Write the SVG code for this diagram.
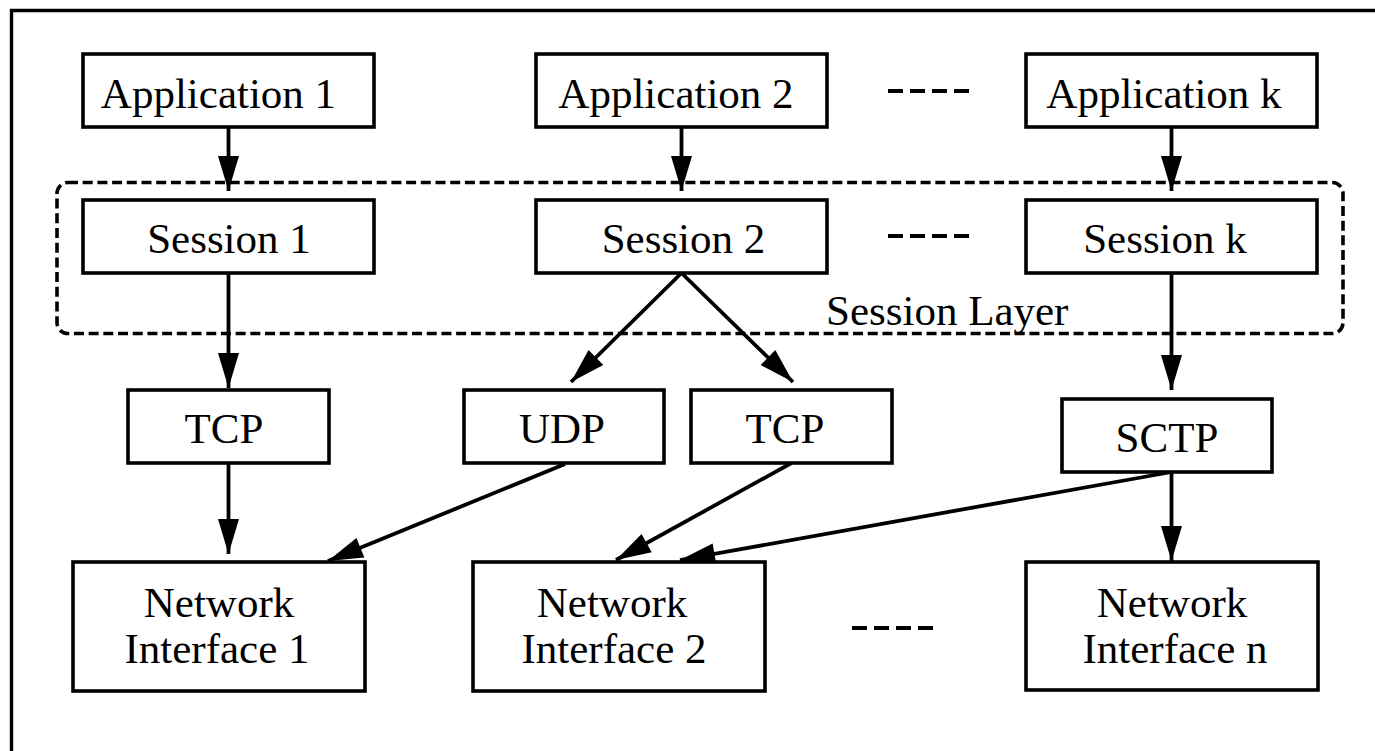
<svg xmlns="http://www.w3.org/2000/svg" width="1375" height="751" viewBox="0 0 1375 751">
  <defs>
    <marker id="arrow" markerUnits="userSpaceOnUse" markerWidth="36" markerHeight="22" refX="35" refY="10.5" orient="auto" overflow="visible">
      <polygon points="0,0 35,10.5 0,21" fill="#000"/>
    </marker>
    <style>
      .box { fill: #fff; stroke: #000; stroke-width: 3.6; }
      .lbl { font-family: "Liberation Serif", "Times New Roman", serif; font-size: 43px; fill: #000; text-anchor: middle; }
      .edge { fill: none; stroke: #000; stroke-width: 3.8; marker-end: url(#arrow); }
      .dots { stroke: #000; stroke-width: 4.2; stroke-dasharray: 15 7; }
      .cluster { fill: none; stroke: #000; stroke-width: 3.6; stroke-dasharray: 10 4.7; }
    </style>
  </defs>

  <rect width="1375" height="751" fill="#fff"/>
  <!-- page frame -->
  <path d="M11.5,751 V10.5 H1375" fill="none" stroke="#000" stroke-width="3.4"/>

  <!-- session layer cluster -->
  <g id="session-layer">
    <rect class="cluster" x="57" y="182.5" width="1286" height="151" rx="11" ry="11"/>
    <text class="lbl" x="826" y="325" style="text-anchor:start">Session Layer</text>
  </g>

  <!-- connectors -->
  <g id="connectors">
    <line class="edge" x1="228.5" y1="127" x2="228.5" y2="191"/>
    <line class="edge" x1="681.5" y1="127" x2="681.5" y2="191"/>
    <line class="edge" x1="1171.5" y1="127" x2="1171.5" y2="191"/>
    <line class="edge" x1="228.5" y1="273" x2="228.5" y2="388"/>
    <line class="edge" x1="681.5" y1="273" x2="571" y2="382"/>
    <line class="edge" x1="681.5" y1="273" x2="793" y2="382"/>
    <line class="edge" x1="1171.5" y1="273" x2="1171.5" y2="390"/>
    <line class="edge" x1="228.5" y1="463" x2="228.5" y2="554"/>
    <line class="edge" x1="565" y1="464" x2="328" y2="561"/>
    <line class="edge" x1="791.5" y1="463" x2="616" y2="560"/>
    <line class="edge" x1="1171.5" y1="472" x2="680" y2="560"/>
    <line class="edge" x1="1171.5" y1="472" x2="1171.5" y2="561"/>
  </g>

  <!-- ellipsis marks between columns -->
  <g id="ellipses">
    <line class="dots" x1="888" y1="91" x2="969" y2="91"/>
    <line class="dots" x1="888" y1="236" x2="969" y2="236"/>
    <line class="dots" x1="852" y1="628" x2="933" y2="628"/>
  </g>

  <!-- application row -->
  <g id="app1">
    <rect class="box" x="83" y="54" width="291" height="73"/>
    <text class="lbl" x="218.5" y="108">Application 1</text>
  </g>
  <g id="app2">
    <rect class="box" x="536" y="54" width="291" height="73"/>
    <text class="lbl" x="676" y="108">Application 2</text>
  </g>
  <g id="appk">
    <rect class="box" x="1026" y="54" width="291" height="73"/>
    <text class="lbl" x="1164" y="108">Application k</text>
  </g>

  <!-- session row -->
  <g id="session1">
    <rect class="box" x="83" y="200" width="291" height="73"/>
    <text class="lbl" x="229" y="253">Session 1</text>
  </g>
  <g id="session2">
    <rect class="box" x="536" y="200" width="291" height="73"/>
    <text class="lbl" x="683.5" y="253">Session 2</text>
  </g>
  <g id="sessionk">
    <rect class="box" x="1026" y="200" width="291" height="73"/>
    <text class="lbl" x="1165" y="253">Session k</text>
  </g>

  <!-- transport row -->
  <g id="tcp1">
    <rect class="box" x="128" y="390" width="201" height="73"/>
    <text class="lbl" x="224" y="443">TCP</text>
  </g>
  <g id="udp">
    <rect class="box" x="464" y="390" width="200" height="73"/>
    <text class="lbl" x="562" y="443">UDP</text>
  </g>
  <g id="tcp2">
    <rect class="box" x="691" y="390" width="201" height="73"/>
    <text class="lbl" x="785" y="443">TCP</text>
  </g>
  <g id="sctp">
    <rect class="box" x="1062" y="399" width="210" height="73"/>
    <text class="lbl" x="1167" y="452">SCTP</text>
  </g>

  <!-- network interface row -->
  <g id="nif1">
    <rect class="box" x="73" y="562" width="292" height="129"/>
    <text class="lbl" x="219" y="617">Network</text>
    <text class="lbl" x="217" y="663">Interface 1</text>
  </g>
  <g id="nif2">
    <rect class="box" x="473" y="562" width="292" height="129"/>
    <text class="lbl" x="612" y="617">Network</text>
    <text class="lbl" x="614" y="663">Interface 2</text>
  </g>
  <g id="nifn">
    <rect class="box" x="1026" y="562" width="292" height="128"/>
    <text class="lbl" x="1172" y="617">Network</text>
    <text class="lbl" x="1175" y="663">Interface n</text>
  </g>
</svg>
